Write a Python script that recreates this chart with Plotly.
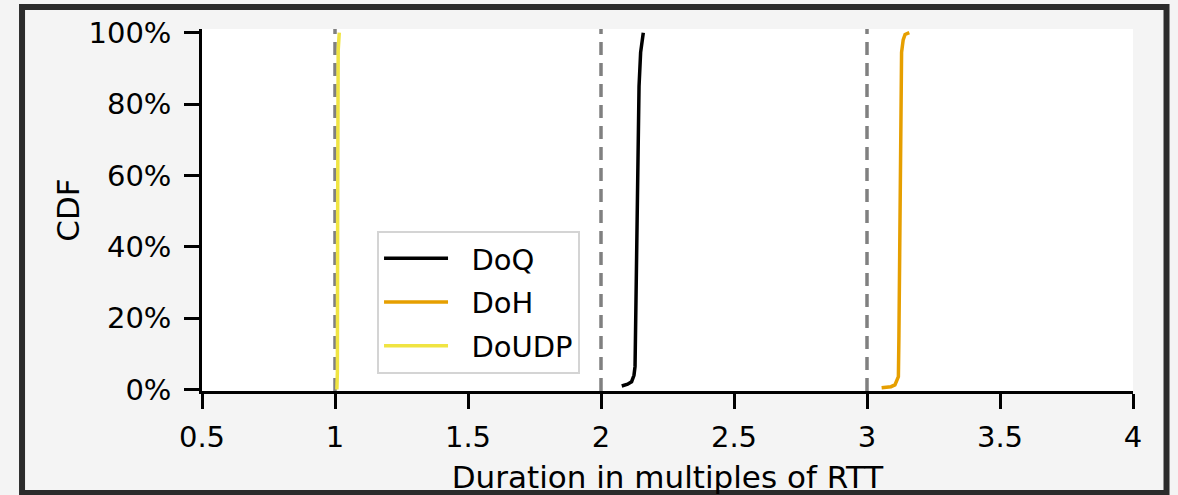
import plotly.graph_objects as go

# ---- data ----
doq_x = [2.078, 2.100, 2.115, 2.124, 2.128, 2.131, 2.134, 2.138, 2.143, 2.149, 2.154, 2.159]
doq_y = [0.010, 0.015, 0.022, 0.040, 0.065, 0.250, 0.475, 0.700, 0.850, 0.945, 0.980, 1.000]

doh_x = [3.055, 3.090, 3.105, 3.118, 3.120, 3.122, 3.125, 3.127, 3.130, 3.136, 3.143, 3.159]
doh_y = [0.005, 0.008, 0.013, 0.036, 0.150, 0.380, 0.650, 0.850, 0.945, 0.980, 0.995, 1.000]

doudp_x = [1.007, 1.009, 1.010, 1.012, 1.016]
doudp_y = [0.000, 0.050, 0.500, 0.950, 1.000]

series_names = ["DoQ", "DoH", "DoUDP"]
rtt_marks = [1, 2, 3]

x_ticks = [0.5, 1, 1.5, 2, 2.5, 3, 3.5, 4]
x_tick_labels = ["0.5", "1", "1.5", "2", "2.5", "3", "3.5", "4"]
y_ticks = [0, 0.2, 0.4, 0.6, 0.8, 1.0]
y_tick_labels = ["0%", "20%", "40%", "60%", "80%", "100%"]

FONT = "DejaVu Sans"
FS = 29
FS_TITLE = 31
PAD = "\u00a0\u00a0"

fig = go.Figure()
fig.add_trace(go.Scatter(x=doq_x, y=doq_y, mode="lines", name=PAD + series_names[0], legendgroup="a",
                         line=dict(color="#000000", width=3.5)))
fig.add_trace(go.Scatter(x=doh_x, y=doh_y, mode="lines", name=PAD + series_names[1], legendgroup="b",
                         line=dict(color="#E69F00", width=3.5)))
fig.add_trace(go.Scatter(x=doudp_x, y=doudp_y, mode="lines", name=PAD + series_names[2], legendgroup="c",
                         line=dict(color="#F0E442", width=3.5)))

for m in rtt_marks:
    fig.add_vline(x=m, line=dict(color="#808080", width=3.5, dash="13px,8px"), layer="below")

# outer frame
fig.add_shape(type="rect", xref="paper", yref="paper",
              x0=-0.1933, x1=1.036, y0=-0.2818, y1=1.0608,
              line=dict(color="#2b2b2b", width=6), fillcolor="rgba(0,0,0,0)", layer="above")

fig.update_layout(
    width=1178, height=495,
    margin=dict(l=202, r=45, t=29, b=104, autoexpand=False),
    paper_bgcolor="#f4f4f4",
    plot_bgcolor="#ffffff",
    font=dict(family=FONT, size=FS, color="#000000"),
    showlegend=True,
    legend=dict(x=0.188, y=0.047, xanchor="left", yanchor="bottom",
                bgcolor="#ffffff", bordercolor="#d4d4d4", borderwidth=2,
                itemwidth=64, tracegroupgap=3,
                font=dict(family=FONT, size=FS)),
    xaxis=dict(range=[0.5, 4], tickvals=x_ticks, ticktext=x_tick_labels,
               showgrid=False, zeroline=False, showline=True, linecolor="#000000", linewidth=2.5,
               ticks="outside", ticklen=15, tickwidth=2.5, tickcolor="#000000",
               ticklabelstandoff=3,
               title=dict(text="Duration in multiples of RTT", standoff=15,
                          font=dict(family=FONT, size=FS_TITLE))),
    yaxis=dict(range=[-0.004, 1.0104], tickvals=y_ticks, ticktext=y_tick_labels,
               showgrid=False, zeroline=False, showline=True, linecolor="#000000", linewidth=2.5,
               ticks="outside", ticklen=15, tickwidth=2.5, tickcolor="#000000",
               ticklabelstandoff=7,
               title=dict(text="CDF", standoff=0, font=dict(family=FONT, size=FS_TITLE))),
)

fig.write_html("out.html", config={"displayModeBar": False},
               post_script="document.body.style.margin='0';document.body.style.overflow='hidden';")
